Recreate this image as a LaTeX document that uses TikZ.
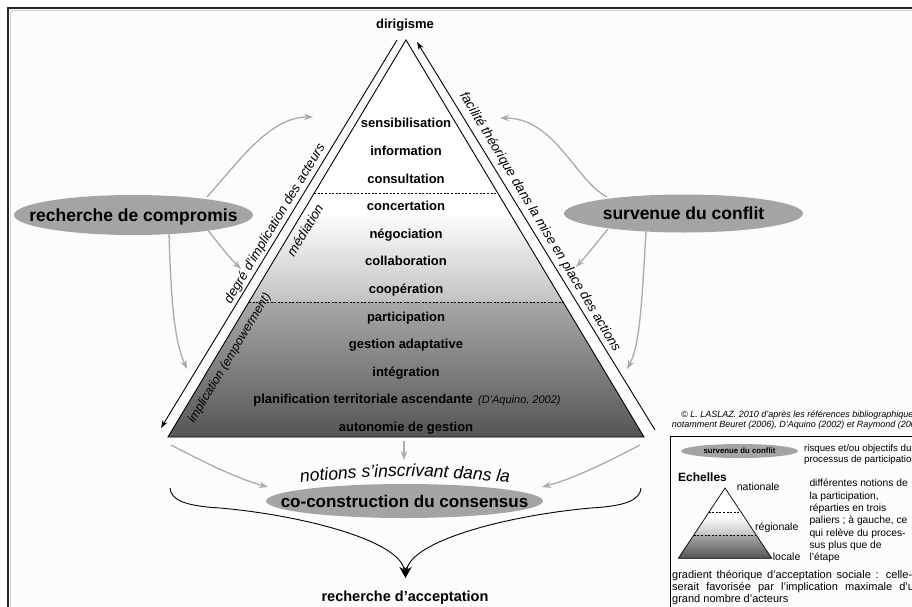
\documentclass[tikz,border=0pt]{standalone}
\usepackage{fontspec}
\setmainfont{Liberation Sans}
\usetikzlibrary{shapes.geometric,arrows.meta,calc,decorations.text}
\definecolor{ellgray}{HTML}{A4A4A4}
\definecolor{arrgray}{HTML}{ABABAB}
\definecolor{midgray}{HTML}{C2C2C2}
\definecolor{lowgray}{HTML}{A8A8A8}
\definecolor{darkgray2}{HTML}{555555}
\definecolor{bgcol}{HTML}{FCFCFC}
\begin{document}
\begin{tikzpicture}[x=1pt,y=-1pt,
  bt/.style={font=\fontsize{13}{15}\selectfont\bfseries, inner sep=0pt, text height=9.3pt, text depth=0pt},
  bigt/.style={font=\fontsize{17.5}{20}\selectfont\bfseries, inner sep=0pt, text height=12.5pt, text depth=0pt},
  itl/.style={font=\fontsize{13.3}{15}\selectfont\itshape, inner sep=0pt, text height=9.5pt, text depth=0pt},
  oval/.style={ellipse, fill=ellgray, draw=none, inner sep=0pt},
  garrow/.style={draw=arrgray, line width=1.3pt, -{Stealth[length=9pt,width=6.5pt]}},
  barrow/.style={draw=black, line width=0.9pt, -{Stealth[length=8pt,width=5.5pt]}},
  dashln/.style={draw=black, line width=0.6pt, dash pattern=on 2pt off 1.6pt},
  triedge/.style={draw=black, line width=0.9pt, line join=miter},
  lg/.style={inner sep=0pt, anchor=base west},
  lgtxt/.style={font=\fontsize{10.5}{12}\selectfont},
]
\useasboundingbox (0,0) rectangle (912,607);
\clip (0,0) rectangle (912,607);
% background and frame
\fill[white] (0,0) rectangle (912,607);
\fill[bgcol] (8,8) rectangle (930,620);
\draw[gray!35, line width=0.8pt] (10,620) -- (10,10) -- (930,10);
\draw[black!85, line width=1.2pt] (8,620) -- (8,8) -- (930,8);

% main triangle
\coordinate (A) at (406,40);
\coordinate (BL) at (168,437);
\coordinate (BR) at (644,437);
\coordinate (L1) at ($(A)!0.3854!(BL)$);
\coordinate (R1) at ($(A)!0.3854!(BR)$);
\coordinate (L2) at ($(A)!0.4332!(BL)$);
\coordinate (R2) at ($(A)!0.4332!(BR)$);
\coordinate (L3) at ($(A)!0.6599!(BL)$);
\coordinate (R3) at ($(A)!0.6599!(BR)$);
\fill[white] (A) -- (BL) -- (BR) -- cycle;
\shade[top color=white, bottom color=midgray] (L2) -- (R2) -- (R3) -- (L3) -- cycle;
\shade[top color=lowgray, bottom color=darkgray2] (L3) -- (R3) -- (BR) -- (BL) -- cycle;
\draw[dashln] (L1) -- (R1);
\draw[dashln] (L3) -- (R3);
\draw[triedge] (A) -- (BL) -- (BR) -- cycle;

% outer arrows along the sides
\coordinate (OL1) at (397,40);
\coordinate (OL2) at (161,428);
\draw[barrow] (OL1) -- (OL2);
\coordinate (OR1) at (655,430);
\coordinate (OR2) at (417,42);
\draw[barrow] (OR1) -- (OR2);

% texts of the triangle
\node[bt] (dir) at (405,24) {dirigisme};
\node[bt] (n1) at (406,123.3) {sensibilisation};
\node[bt] (n2) at (406,151) {information};
\node[bt] (n3) at (406,178.5) {consultation};
\node[bt] (n4) at (406,206) {concertation};
\node[bt] (n5) at (406,233.7) {négociation};
\node[bt] (n6) at (406,261) {collaboration};
\node[bt] (n7) at (406,288.9) {coopération};
\node[bt] (n8) at (406,316.5) {participation};
\node[bt] (n9) at (406,344) {gestion adaptative};
\node[bt] (n10) at (406,371.7) {intégration};
\node[bt] (n11) at (407,399) {planification territoriale ascendante\hspace{1.5pt} {\mdseries\itshape\fontsize{11}{13}\selectfont (D’Aquino, 2002)}};
\node[bt] (n12) at (406,427) {autonomie de gestion};

% side labels
\node[itl, rotate=59] (deg) at (274,223) {degré d’implication des acteurs};
\node[itl, rotate=59] (med) at (305,230) {médiation};
\node[itl, rotate=59, font=\fontsize{12.4}{14}\selectfont\itshape] (imp) at (228.5,357.5) {implication (empowerment)};
\node[itl, rotate=-59] (fac) at (541,221.5) {facilité théorique dans la mise en place des actions};

% ellipses
\node[oval, minimum width=239pt, minimum height=40pt] (L) at (133.5,215) {};
\node[bigt] (Lt) at (L) {recherche de compromis};
\node[oval, minimum width=239pt, minimum height=38pt] (R) at (683.5,213.5) {};
\node[bigt] (Rt) at (R) {survenue du conflit};
\node[oval, minimum width=277pt, minimum height=34pt] (C) at (404.5,501) {};
\node[bigt, font=\fontsize{17}{20}\selectfont\bfseries] (Ct) at (C) {co-construction du consensus};

% grey arrows from the left ellipse
\coordinate (la1s) at (207,197); \coordinate (la1e) at (313,117);
\draw[garrow] (la1s) .. controls (240,160) and (270,117) .. (la1e);
\coordinate (la2s) at (207,229); \coordinate (la2e) at (241,269);
\draw[garrow] (la2s) .. controls (218,243) and (228,256) .. (la2e);
\coordinate (la3s) at (169,233); \coordinate (la3e) at (187,369);
\draw[garrow] (la3s) .. controls (171,300) and (174,340) .. (la3e);
% grey arrows from the right ellipse
\coordinate (ra1s) at (607,197); \coordinate (ra1e) at (500,118);
\draw[garrow] (ra1s) .. controls (575,180) and (555,118) .. (ra1e);
\coordinate (ra2s) at (608,229); \coordinate (ra2e) at (576,267);
\draw[garrow] (ra2s) .. controls (598,241) and (588,254) .. (ra2e);
\coordinate (ra3s) at (646,232); \coordinate (ra3e) at (627,369);
\draw[garrow] (ra3s) .. controls (642,300) and (640,345) .. (ra3e);
% grey arrows towards the consensus
\coordinate (ba1s) at (171,445); \coordinate (ba1e) at (268,487);
\draw[garrow] (ba1s) .. controls (200,460) and (235,478) .. (ba1e);
\coordinate (ba2s) at (640,445); \coordinate (ba2e) at (542,487);
\draw[garrow] (ba2s) .. controls (611,460) and (576,478) .. (ba2e);
\coordinate (ba3s) at (404,441); \coordinate (ba3e) at (404,460);
\draw[garrow] (ba3s) -- (ba3e);

% arched text
\path[decorate, decoration={text along path, text align=center,
  text={|\fontsize{17.5}{20}\selectfont\itshape|notions s’inscrivant dans la}}]
  (285,485) .. controls (365,474) and (445,474) .. (525,485);

% brace converging to the acceptance
\coordinate (bl) at (170,488);
\coordinate (br) at (641,488);
\coordinate (tip) at (405.5,578);
\draw[line width=0.9pt, -{Stealth[length=12pt,width=9pt]}] (bl) .. controls (171,500) and (185,506) .. (220,508) .. controls (300,515) and (400,540) .. (tip);
\draw[line width=0.9pt, -{Stealth[length=12pt,width=9pt]}] (br) .. controls (640,500) and (626,506) .. (591,508) .. controls (511,515) and (411,540) .. (tip);
\node[bt, font=\fontsize{14.5}{17}\selectfont\bfseries, text height=10.4pt] (acc) at (405,596) {recherche d’acceptation};

% legend
\node[lg, font=\fontsize{9}{11}\selectfont\itshape] (cp1) at (681,417) {© L. LASLAZ. 2010 d’après les références bibliographiques};
\node[lg, font=\fontsize{9}{11}\selectfont\itshape] (cp2) at (671.7,427) {notamment Beuret (2006), D’Aquino (2002) et Raymond (2008)};
\draw[line width=0.8pt] (670,620) -- (670,436) -- (930,436);
\node[oval, minimum width=117pt, minimum height=14pt] (le) at (739.5,451) {};
\node[inner sep=0pt, font=\fontsize{7.8}{9}\selectfont\bfseries] (let) at (le) {survenue du conflit};
\node[anchor=north west, inner sep=0pt, align=left, font=\fontsize{9.7}{11}\selectfont] (risq) at (804,442.5) {\rule{0pt}{9pt}risques et/ou objectifs du\\processus de participation};
\node[lg, font=\fontsize{12}{14}\selectfont\bfseries] (ech) at (678,481) {Echelles};

\coordinate (sA) at (725,488);
\coordinate (sBL) at (678.3,558.3);
\coordinate (sBR) at (771.7,558.3);
\coordinate (sL1) at ($(sA)!0.3514!(sBL)$);
\coordinate (sR1) at ($(sA)!0.3514!(sBR)$);
\coordinate (sL2) at ($(sA)!0.4125!(sBL)$);
\coordinate (sR2) at ($(sA)!0.4125!(sBR)$);
\coordinate (sL3) at ($(sA)!0.6686!(sBL)$);
\coordinate (sR3) at ($(sA)!0.6686!(sBR)$);
\fill[white] (sA) -- (sBL) -- (sBR) -- cycle;
\shade[top color=white, bottom color=midgray] (sL2) -- (sR2) -- (sR3) -- (sL3) -- cycle;
\shade[top color=lowgray, bottom color=darkgray2] (sL3) -- (sR3) -- (sBR) -- (sBL) -- cycle;
\draw[dashln, line width=0.5pt] (sL1) -- (sR1);
\draw[dashln, line width=0.5pt] (sL3) -- (sR3);
\draw[triedge, line width=0.7pt] (sA) -- (sBL) -- (sBR) -- cycle;

\node[lg, lgtxt] (nat) at (736.7,490.5) {nationale};
\node[lg, lgtxt] (reg) at (755,530.5) {régionale};
\node[lg, lgtxt] (loc) at (772.7,560.5) {locale};
\node[anchor=north west, inner sep=0pt, align=left, font=\fontsize{10.3}{12.33}\selectfont] (diff) at (809.3,477.5) {\rule{0pt}{9pt}différentes notions de\\la participation,\\réparties en trois\\paliers ; à gauche, ce\\qui relève du proces-\\sus plus que de\\l’étape};
\node[anchor=north west, inner sep=0pt, text width=248pt, align=justify, font=\fontsize{11}{12.1}\selectfont] (grad) at (672,568.8) {\rule{0pt}{9pt}gradient théorique d’acceptation sociale~: \mbox{celle-ci} serait favorisée par l’implication maximale d’un grand nombre d’acteurs};
\end{tikzpicture}
\end{document}
